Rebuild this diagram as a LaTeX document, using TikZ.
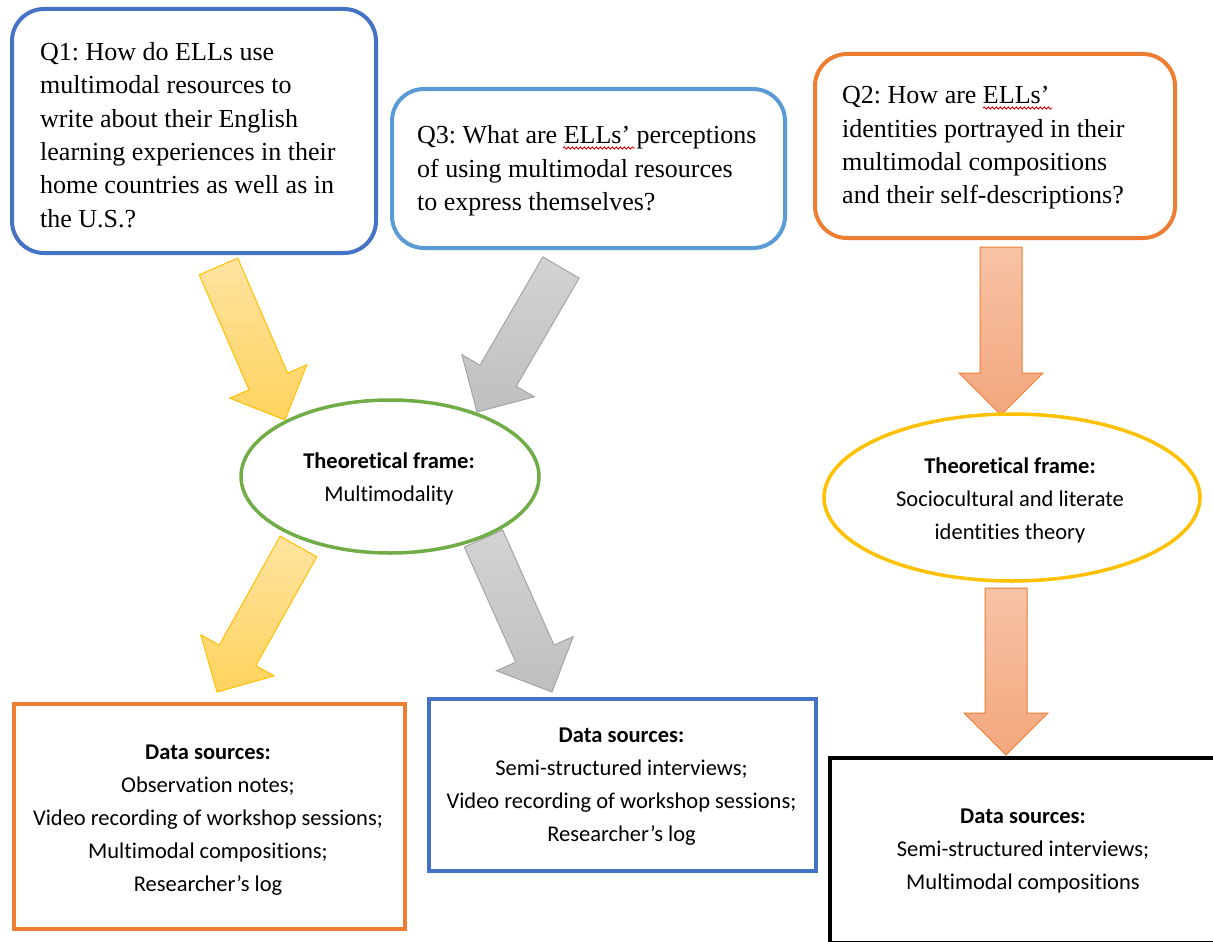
\documentclass[tikz,border=0pt]{standalone}
\usepackage{fontspec}
\setmainfont{Liberation Serif}
\newfontfamily\calibri[Ligatures=CommonOff]{Carlito}
\usetikzlibrary{calc,shapes.geometric,decorations.pathmorphing}
\pgfdeclarelayer{background}
\pgfsetlayers{background,main}
\frenchspacing

\definecolor{qblue}{HTML}{4472C4}
\definecolor{qlight}{HTML}{5B9BD5}
\definecolor{qorange}{HTML}{ED7D31}
\definecolor{fgreen}{HTML}{70AD47}
\definecolor{fgold}{HTML}{FFC000}
\definecolor{ytop}{HTML}{FFE3A0}
\definecolor{ybot}{HTML}{FFD35E}
\definecolor{gtop}{HTML}{D3D3D3}
\definecolor{gbot}{HTML}{BFBFBF}
\definecolor{gedge}{HTML}{A5A5A5}
\definecolor{otop}{HTML}{F7C3A6}
\definecolor{obot}{HTML}{F3A67C}

% block arrow: #1 style, #2 start of shaft (centre), #3 tip
\newcommand\fatarrow[3]{%
  \coordinate (fa-h) at ($(#3)!42pt!(#2)$);
  \draw[#1] ($(#2)!21pt!90:(#3)$) -- ($(fa-h)!21pt!90:(#3)$)
    -- ($(fa-h)!42pt!90:(#3)$) -- (#3) -- ($(fa-h)!42pt!-90:(#3)$)
    -- ($(fa-h)!21pt!-90:(#3)$) -- ($(#2)!21pt!-90:(#3)$) -- cycle;
}

\tikzset{
  qbox/.style={draw=#1, line width=4pt, rounded corners=32pt, fill=white, inner sep=0pt},
  dbox/.style={draw=#1, line width=4pt, fill=white, inner sep=0pt},
  frame/.style={ellipse, draw=#1, line width=3.5pt, fill=white, inner sep=0pt},
  qtext/.style={anchor=base west, inner sep=0pt, font=\fontsize{26}{33.5}\selectfont},
  stext/.style={anchor=base, inner sep=0pt, font=\calibri\fontsize{22.5}{33}\selectfont},
  yarrow/.style={draw=fgold, line width=1pt, top color=ytop, bottom color=ybot},
  garrow/.style={draw=gedge, line width=1pt, top color=gtop, bottom color=gbot},
  oarrow/.style={draw=qorange, line width=1pt, top color=otop, bottom color=obot},
  spell/.style={draw=red, line width=0.9pt, decorate, decoration={snake, amplitude=1.1pt, segment length=4pt}},
}

\begin{document}
\begin{tikzpicture}[x=1pt,y=-1pt]
\clip (0,0) rectangle (1213,942);

% research questions
\node[qbox=qblue, minimum width=364pt, minimum height=244pt] (q1) at (194,131) {};
\node[qbox=qlight, minimum width=393pt, minimum height=159pt] (q3) at (588.5,168.5) {};
\node[qbox=qorange, minimum width=360pt, minimum height=184pt] (q2) at (995,146) {};

\node[qtext] (q1text) at (40,60) {\begin{tabular}[t]{@{}l@{}}
Q1: How do ELLs use\\ multimodal resources to\\ write about their English\\
learning experiences in their\\ home countries as well as in\\ the U.S.?\end{tabular}};
\node[qtext] (q3text) at (417,143.5) {\begin{tabular}[t]{@{}l@{}}
Q3: What are ELLs’ perceptions\\ of using multimodal resources\\ to express themselves?\end{tabular}};
\node[qtext] (q2text) at (842,103.5) {\begin{tabular}[t]{@{}l@{}}
Q2: How are ELLs’\\ identities portrayed in their\\ multimodal compositions\\ and their self-descriptions?\end{tabular}};

\draw[spell] (563,148) -- (635,148);
\draw[spell] (983,108) -- (1052,108);

% theoretical frames
\node[frame=fgreen, minimum width=298pt, minimum height=153pt] (e1) at (390,476.5) {};
\node[frame=fgold, minimum width=376pt, minimum height=167pt] (e2) at (1012,497.5) {};

\node[stext] (e1text) at (389,468) {\begin{tabular}[t]{@{}c@{}}
\textbf{Theoretical frame:}\\ Multimodality\end{tabular}};
\node[stext] (e2text) at (1010,473) {\begin{tabular}[t]{@{}c@{}}
\textbf{Theoretical frame:}\\ Sociocultural and literate\\ identities theory\end{tabular}};

% data sources
\node[dbox=qorange, minimum width=391pt, minimum height=225pt] (d1) at (209.5,816.5) {};
\node[dbox=qblue, minimum width=387pt, minimum height=172pt] (d2) at (622.5,785) {};
\node[dbox=black, minimum width=410pt, minimum height=185pt] (d3) at (1035,850.5) {};

\node[stext] (d1text) at (208,759) {\begin{tabular}[t]{@{}c@{}}
\textbf{Data sources:}\\ Observation notes;\\ Video recording of workshop sessions;\\
Multimodal compositions;\\ Researcher’s log\end{tabular}};
\node[stext] (d2text) at (621.5,742) {\begin{tabular}[t]{@{}c@{}}
\textbf{Data sources:}\\ Semi-structured interviews;\\ Video recording of workshop sessions;\\
Researcher’s log\end{tabular}};
\node[stext] (d3text) at (1023,823) {\begin{tabular}[t]{@{}c@{}}
\textbf{Data sources:}\\ Semi-structured interviews;\\ Multimodal compositions\end{tabular}};

% block arrows, behind the frames
\coordinate (ya1s) at (218.5,266.5); \coordinate (ya1t) at (285,420);
\coordinate (ga1s) at (561,267.5);   \coordinate (ga1t) at (477,412);
\coordinate (ya2s) at (298.5,546.5); \coordinate (ya2t) at (217,692);
\coordinate (ga2s) at (483.5,538.5); \coordinate (ga2t) at (552,692);
\coordinate (oa1s) at (1001,247);    \coordinate (oa1t) at (1001,415);
\coordinate (oa2s) at (1006,588);    \coordinate (oa2t) at (1006,755);
\begin{pgfonlayer}{background}
\fatarrow{yarrow}{ya1s}{ya1t}
\fatarrow{garrow}{ga1s}{ga1t}
\fatarrow{yarrow}{ya2s}{ya2t}
\fatarrow{garrow}{ga2s}{ga2t}
\fatarrow{oarrow}{oa1s}{oa1t}
\fatarrow{oarrow}{oa2s}{oa2t}
\end{pgfonlayer}
\end{tikzpicture}
\end{document}
